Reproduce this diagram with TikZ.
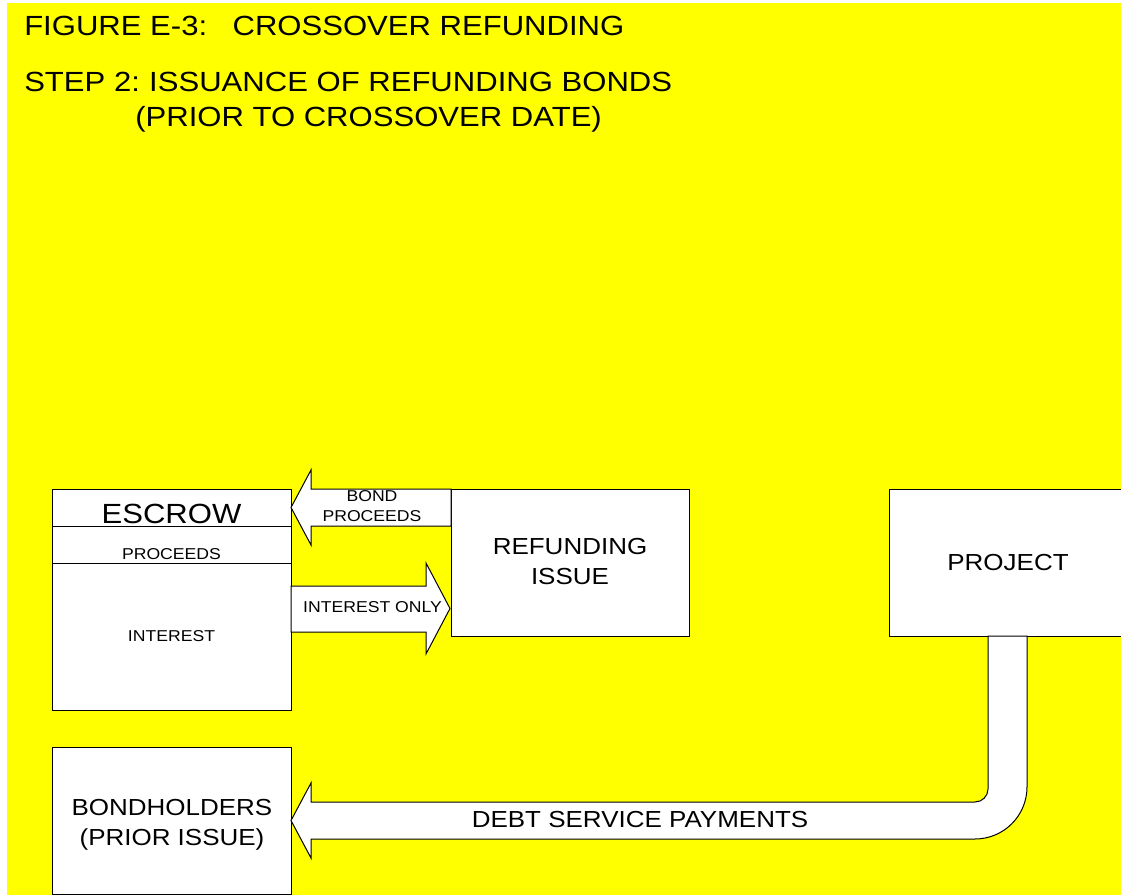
\documentclass[tikz,border=0pt]{standalone}
\usepackage{fontspec}
\setmainfont{Liberation Sans}
\usepackage{graphicx}
\definecolor{bgyellow}{RGB}{255,255,0}
\newcommand\stretchtext[1]{\scalebox{1.12}[1]{#1}}
\newcommand\twolines[2]{\stretchtext{\begin{tabular}[t]{@{}c@{}}#1\\#2\end{tabular}}}
\tikzset{
  x=0.75pt, y=-0.75pt,
  box/.style={draw=black, fill=white, line width=0.75pt},
  blockarrow/.style={draw=black, fill=white, line width=0.75pt, line join=miter},
  lbl/.style={inner sep=0pt, anchor=base, align=center},
  ttl/.style={inner sep=0pt, anchor=base west, font=\fontsize{20.8pt}{24pt}\selectfont},
  bigf/.style={font=\fontsize{20.8pt}{24pt}\selectfont},
  medf/.style={font=\fontsize{17.4pt}{22.5pt}\selectfont},
  smallf/.style={font=\fontsize{11.8pt}{15pt}\selectfont},
}
\begin{document}
\begin{tikzpicture}
\useasboundingbox (0,0) rectangle (1121,895);
\fill[white] (0,0) rectangle (1121,895);
\fill[bgyellow] (7,3) rectangle (1121,895);

% title
\node[ttl] (t1) at (24,36) {\stretchtext{FIGURE E-3:\hspace{17pt}CROSSOVER REFUNDING}};
\node[ttl] (t2) at (24,92) {\stretchtext{STEP 2:\hspace{-1.5pt} ISSUANCE OF REFUNDING BONDS}};
\node[ttl] (t3) at (135,127) {\stretchtext{(PRIOR TO CROSSOVER DATE)}};

% boxes
\draw[box] (52,489) rectangle (291,710);
\draw[line width=0.75pt] (52,526) -- (291,526);
\draw[line width=0.75pt] (52,563) -- (291,563);
\draw[box] (451,489) rectangle (689,636);
\draw[box] (889,489) rectangle (1130,636);
\draw[box] (52,747) rectangle (291,894);

% block arrows
\draw[blockarrow] (291,507.5) -- (311,470) -- (311,489) -- (451,489) -- (451,526) -- (311,526) -- (311,545) -- cycle;
\draw[blockarrow] (291,586) -- (426,586) -- (426,563) -- (450,608.5) -- (426,654) -- (426,632) -- (291,632) -- cycle;
\draw[blockarrow] (988,636) -- (988,789) .. controls (988,796.18) and (982.18,802) .. (975,802)
  -- (311,802) -- (311,783) -- (291,820.5) -- (311,858) -- (311,839) -- (975,839)
  .. controls (1003.72,839) and (1027,815.72) .. (1027,787) -- (1027,636) -- cycle;

% labels
\node[lbl, bigf] (escrow) at (171.5,523) {\stretchtext{ESCROW}};
\node[lbl, smallf] (proceeds) at (171.5,559) {\stretchtext{PROCEEDS}};
\node[lbl, smallf] (interest) at (171.5,641.5) {\stretchtext{INTEREST}};
\node[lbl, smallf] (bondproceeds) at (372,501.5) {\twolines{BOND}{PROCEEDS}};
\node[lbl, smallf] (interestonly) at (372.5,612.5) {\stretchtext{INTEREST ONLY}};
\node[lbl, medf] (refunding) at (570,554) {\twolines{REFUNDING}{ISSUE}};
\node[lbl, medf] (project) at (1008,570) {\stretchtext{PROJECT}};
\node[lbl, medf] (bondholders) at (172,815) {\twolines{BONDHOLDERS}{(PRIOR ISSUE)}};
\node[lbl, medf] (debt) at (640,827) {\stretchtext{DEBT SERVICE PAYMENTS}};
\end{tikzpicture}
\end{document}
